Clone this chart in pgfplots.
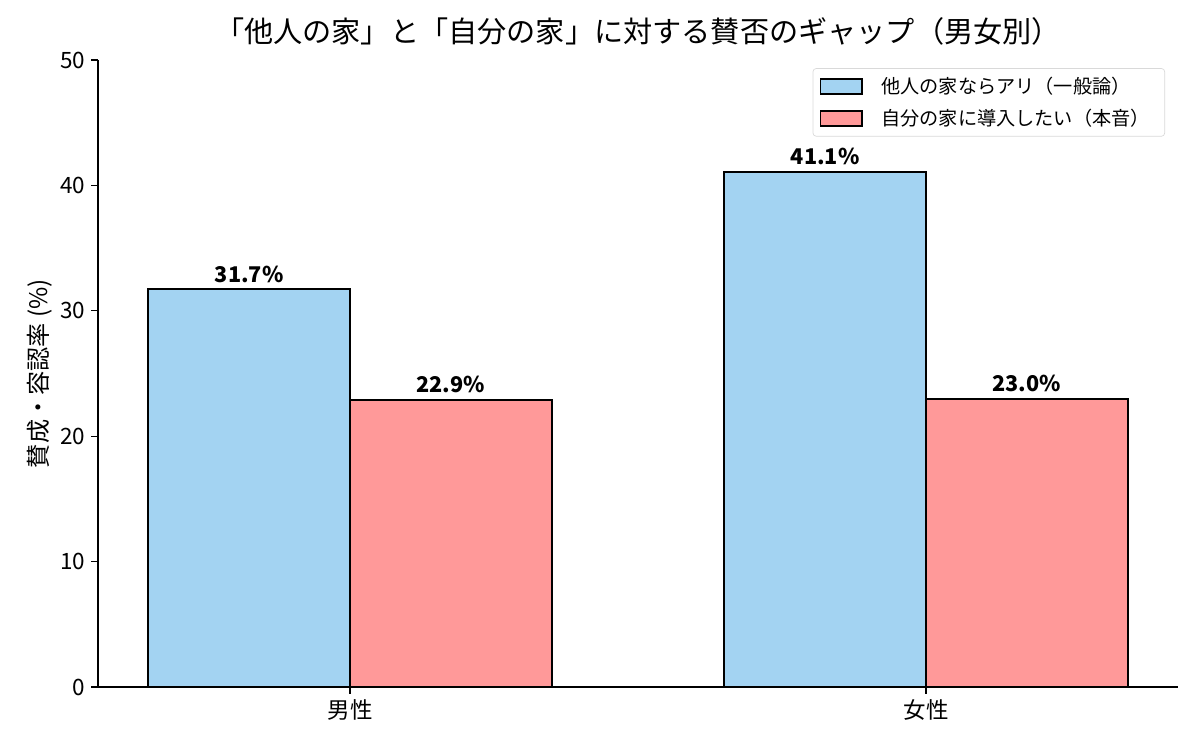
\documentclass[border=0pt]{standalone}
\usepackage{fontspec}
\setmainfont{Noto Sans CJK JP}
\usepackage{pgfplots}
\pgfplotsset{compat=1.18}
\definecolor{cblue}{RGB}{163,211,242}
\definecolor{cred}{RGB}{255,153,153}
\begin{document}
\begin{tikzpicture}
\useasboundingbox (-58.8pt,-37.8pt) rectangle (661.2pt,412.2pt);
\begin{axis}[
  at={(0,0)}, anchor=south west,
  scale only axis, width=648pt, height=376.2pt,
  xmin=-0.4375, xmax=1.4375, ymin=0, ymax=50,
  xtick={0,1}, xticklabels={男性,女性},
  ytick={0,10,20,30,40,50},
  axis x line*=bottom, axis y line*=left,
  tick align=outside, tick style={black, line width=0.7pt},
  major tick length=4pt,
  axis line style={line width=0.8pt},
  ticklabel style={font=\fontsize{13.5}{15}\selectfont},
  /pgf/number format/assume math mode=true,
  ylabel={賛成・容認率 (\%)},
  ylabel style={font=\fontsize{14.5}{16}\selectfont, yshift=-2pt},
  title={「他人の家」と「自分の家」に対する賛否のギャップ（男女別）},
  title style={font=\fontsize{17.5}{19}\selectfont, yshift=-1pt},
  ybar, bar width=0.35,
  nodes near coords={\pgfmathprintnumber[fixed,precision=1,fixed zerofill]{\pgfplotspointmeta}\%},
  nodes near coords style={font=\bfseries\fontsize{13}{15}\selectfont, /pgf/number format/assume math mode=true},
  legend style={at={(0.988,0.987)}, anchor=north east, draw=black!15, rounded corners=2pt,
    font=\fontsize{11.5}{13}\selectfont, row sep=4pt, inner xsep=4pt, inner ysep=3pt,
    nodes={inner xsep=5pt}},
  legend cell align=left,
  legend image code/.code={\draw[#1, sharp corners, line width=0.9pt] (0pt,-4.5pt) rectangle (25pt,4.5pt); \path (31pt,0pt);},
]
\addplot[fill=cblue, draw=black, line width=1.2pt, bar shift=-0.175] coordinates {(0,31.7) (1,41.1)};
\addplot[fill=cred, draw=black, line width=1.2pt, bar shift=0.175] coordinates {(0,22.9) (1,23.0)};
\legend{他人の家ならアリ（一般論）, 自分の家に導入したい（本音）}
\end{axis}
\end{tikzpicture}
\end{document}
